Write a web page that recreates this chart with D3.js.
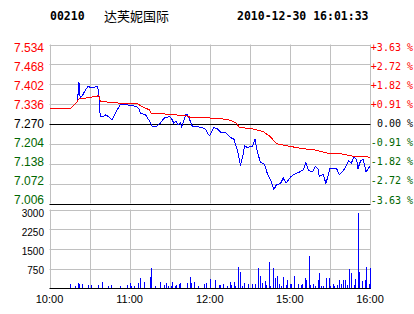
<!DOCTYPE html>
<html>
<head>
<meta charset="utf-8">
<script src="https://cdn.jsdelivr.net/npm/d3@7"></script>
<style>
	body { margin: 0; background: #fff; }
	svg { display: block; }
</style>
</head>
<body>
<div id="container"></div>
<script>
// quote header
const code = "00210"
const stockName = "达芙妮国际"
const stamp = "2010-12-30 16:01:33"
const prevClose = 7.270

// axis labels
const priceTicks = [7.534, 7.468, 7.402, 7.336, 7.270, 7.204, 7.138, 7.072, 7.006]
const volTicks = [3000, 2250, 1500, 750]
const timeLabels = ["10:00", "11:00", "12:00", "15:00", "16:00"]

// price line: [time, price]
const priceLine = [
	["10:00", 7.322], ["10:16", 7.322], ["10:21", 7.345], ["10:22", 7.41], ["10:23", 7.356],
	["10:25", 7.367], ["10:27", 7.384], ["10:29", 7.395], ["10:31", 7.39], ["10:33", 7.39],
	["10:35", 7.395], ["10:36", 7.395], ["10:37", 7.367], ["10:38", 7.295], ["10:40", 7.295],
	["10:42", 7.30], ["10:44", 7.295], ["10:47", 7.284], ["10:50", 7.312], ["10:53", 7.334],
	["10:58", 7.334], ["11:05", 7.328], ["11:07", 7.32], ["11:08", 7.306], ["11:12", 7.30],
	["11:15", 7.279], ["11:17", 7.26], ["11:20", 7.262], ["11:23", 7.273], ["11:26", 7.29],
	["11:30", 7.295], ["11:32", 7.284], ["11:33", 7.273], ["11:35", 7.279], ["11:36", 7.268],
	["11:38", 7.273], ["11:39", 7.26], ["11:42", 7.30], ["11:43", 7.303], ["11:45", 7.284],
	["11:47", 7.262], ["11:52", 7.26], ["11:55", 7.257], ["11:57", 7.251], ["11:59", 7.235],
	["12:00", 7.232], ["12:03", 7.259], ["12:06", 7.253], ["12:08", 7.243], ["12:12", 7.242],
	["12:14", 7.232], ["12:16", 7.224], ["12:18", 7.221], ["12:21", 7.179], ["12:23", 7.132],
	["12:25", 7.168], ["12:26", 7.199], ["12:28", 7.192], ["14:32", 7.196], ["14:34", 7.22],
	["14:35", 7.19], ["14:37", 7.157], ["14:38", 7.143], ["14:41", 7.137], ["14:43", 7.107],
	["14:46", 7.08], ["14:48", 7.052], ["14:50", 7.069], ["14:53", 7.072], ["14:55", 7.091],
	["14:57", 7.074], ["14:58", 7.078], ["14:59", 7.085], ["15:01", 7.096], ["15:04", 7.105],
	["15:07", 7.11], ["15:10", 7.118], ["15:12", 7.141], ["15:14", 7.115], ["15:17", 7.111],
	["15:19", 7.129], ["15:21", 7.122], ["15:22", 7.096], ["15:25", 7.102], ["15:27", 7.072],
	["15:30", 7.122], ["15:35", 7.122], ["15:37", 7.102], ["15:40", 7.115], ["15:42", 7.129],
	["15:44", 7.148], ["15:46", 7.141], ["15:48", 7.159], ["15:50", 7.152], ["15:51", 7.122],
	["15:53", 7.148], ["15:55", 7.152], ["15:57", 7.111], ["16:00", 7.13]
]

// average price line: [time, price]
const avgLine = [
	["10:00", 7.322], ["10:16", 7.322], ["10:20", 7.34], ["10:22", 7.353], ["10:27", 7.356],
	["10:35", 7.362], ["10:37", 7.364], ["10:38", 7.345], ["10:50", 7.34], ["11:06", 7.337],
	["11:10", 7.326], ["11:15", 7.317], ["11:16", 7.306], ["11:27", 7.303], ["11:43", 7.297],
	["11:45", 7.293], ["12:00", 7.29], ["12:08", 7.288], ["12:16", 7.282], ["12:20", 7.273],
	["12:22", 7.259], ["14:32", 7.254], ["14:40", 7.245], ["14:45", 7.229], ["14:50", 7.205],
	["14:57", 7.198], ["15:10", 7.188], ["15:20", 7.183], ["15:27", 7.174], ["15:40", 7.17],
	["15:47", 7.163], ["15:58", 7.161], ["16:00", 7.157]
]

// volume per minute: [time, volume]
const volume = [
	["10:15", 163], ["10:19", 87], ["10:21", 213], ["10:22", 163], ["10:24", 163],
	["10:29", 125], ["10:31", 125], ["10:36", 125], ["10:39", 239], ["10:44", 87],
	["10:46", 125], ["10:53", 87], ["10:58", 125], ["11:00", 213], ["11:01", 87],
	["11:03", 87], ["11:06", 213], ["11:08", 403], ["11:11", 251], ["11:15", 440],
	["11:16", 782], ["11:19", 87], ["11:23", 239], ["11:26", 125], ["11:27", 213],
	["11:29", 87], ["11:31", 87], ["11:32", 239], ["11:34", 87], ["11:35", 125],
	["11:37", 163], ["11:38", 213], ["11:43", 213], ["11:45", 429], ["11:46", 213],
	["11:48", 251], ["11:51", 87], ["11:56", 163], ["11:57", 213], ["12:00", 360],
	["12:04", 315], ["12:07", 125], ["12:08", 125], ["12:10", 163], ["12:13", 87],
	["12:15", 239], ["12:16", 125], ["12:18", 239], ["12:19", 87], ["12:21", 809],
	["12:23", 619], ["12:24", 87], ["12:26", 201], ["12:29", 163], ["14:32", 163],
	["14:34", 163], ["14:36", 771], ["14:38", 467], ["14:39", 201], ["14:41", 277],
	["14:42", 125], ["14:44", 999], ["14:45", 87], ["14:47", 771], ["14:49", 391],
	["14:50", 467], ["14:52", 163], ["14:53", 87], ["14:55", 429], ["14:57", 125],
	["14:58", 315], ["15:00", 163], ["15:01", 163], ["15:03", 467], ["15:06", 163],
	["15:08", 125], ["15:09", 163], ["15:11", 391], ["15:12", 315], ["15:14", 1226],
	["15:15", 125], ["15:17", 163], ["15:19", 87], ["15:21", 315], ["15:22", 581],
	["15:23", 87], ["15:25", 87], ["15:27", 391], ["15:29", 391], ["15:30", 87],
	["15:32", 163], ["15:33", 87], ["15:35", 125], ["15:37", 315], ["15:38", 163],
	["15:40", 315], ["15:41", 315], ["15:43", 125], ["15:44", 733], ["15:46", 581],
	["15:48", 125], ["15:49", 353], ["15:51", 2886], ["15:52", 619], ["15:54", 277],
	["15:56", 315], ["15:57", 809], ["15:59", 163], ["16:00", 771]
]

const width = 414
const height = 314
const RED = "#ff0000", GREEN = "#006600", BLUE = "#0000ff", GRID = "#c0c0c0"

// HK sessions 10:00-12:30 and 14:30-16:00 -> trading minute 0..240
function toIdx(t) {
	const [h, m] = t.split(":").map(Number)
	const mins = h * 60 + m
	return mins <= 12 * 60 + 30 ? mins - 600 : mins - (14 * 60 + 30) + 150
}

const x = d3.scaleLinear().domain([0, 240]).range([49.5, 370])
const y = d3.scaleLinear().domain([7.006, 7.534]).range([203.5, 44.5])
const yLab = d3.scaleLinear().domain([7.006, 7.534]).range([200, 47.5])
const yv = d3.scaleLinear().domain([0, 3000]).range([288.5, 209.5])
const yvLab = d3.scaleLinear().domain([0, 3000]).range([289, 213.5])

const svg = d3.select("#container")
	.append("svg")
	.attr("width", width)
	.attr("height", height)
	.style("background", "#fff")

// header
const head = svg.append("g")
	.style("font-family", "'DejaVu Sans Mono', monospace")
	.style("font-weight", "bold")
	.style("font-size", "11.5px")
head.append("text").attr("x", 50).attr("y", 20).text(code)
head.append("text").attr("x", 237).attr("y", 20).text(stamp)
svg.append("text")
	.attr("x", 104).attr("y", 21)
	.style("font-family", "'Noto Sans CJK SC', sans-serif")
	.style("font-size", "13px")
	.text(stockName)

// vertical grid: every 30 trading minutes
const vgrid = d3.range(0, 241, 30)
svg.append("g").selectAll("line")
	.data(vgrid)
	.join("line")
	.attr("x1", d => Math.round(x(d)) + 0.5).attr("x2", d => Math.round(x(d)) + 0.5)
	.attr("y1", 44.5).attr("y2", 203.5)
	.attr("stroke", GRID)
svg.append("g").selectAll("line")
	.data(vgrid)
	.join("line")
	.attr("x1", d => Math.round(x(d)) + 0.5).attr("x2", d => Math.round(x(d)) + 0.5)
	.attr("y1", 209.5).attr("y2", 288.5)
	.attr("stroke", GRID)

// horizontal grid, price panel
svg.append("g").selectAll("line")
	.data(priceTicks)
	.join("line")
	.attr("x1", x(0)).attr("x2", Math.round(x(240)) + 0.5)
	.attr("y1", d => Math.round(y(d)) + 0.5).attr("y2", d => Math.round(y(d)) + 0.5)
	.attr("stroke", d => d === prevClose || d === 7.006 ? "#000" : GRID)

// horizontal grid, volume panel
svg.append("g").selectAll("line")
	.data(volTicks)
	.join("line")
	.attr("x1", x(0)).attr("x2", Math.round(x(240)) + 0.5)
	.attr("y1", d => Math.round(yv(d)) + 0.5).attr("y2", d => Math.round(yv(d)) + 0.5)
	.attr("stroke", GRID)

// volume bars
svg.append("g").selectAll("rect")
	.data(volume)
	.join("rect")
	.attr("x", d => Math.round(x(toIdx(d[0]))))
	.attr("width", 1)
	.attr("y", d => Math.round(yv(d[1])))
	.attr("height", d => Math.round(yv(0)) - Math.round(yv(d[1])))
	.attr("fill", BLUE)
	.attr("shape-rendering", "crispEdges")

svg.append("line")
	.attr("x1", x(0)).attr("x2", Math.round(x(240)) + 0.5)
	.attr("y1", 288.5).attr("y2", 288.5)
	.attr("stroke", "#000")

// price and average lines
const line = d3.line()
	.x(d => x(toIdx(d[0])))
	.y(d => y(d[1]))

svg.append("path")
	.datum(priceLine)
	.attr("d", line)
	.attr("fill", "none")
	.attr("stroke", BLUE)
	.attr("shape-rendering", "crispEdges")

svg.append("path")
	.datum(avgLine)
	.attr("d", line)
	.attr("fill", "none")
	.attr("stroke", RED)
	.attr("shape-rendering", "crispEdges")

// left price labels
const colorOf = v => v > prevClose + 1e-9 ? RED : v < prevClose - 1e-9 ? GREEN : "#000"
svg.append("g")
	.style("font-family", "'Liberation Sans', Arial, sans-serif")
	.style("font-size", "12px")
	.selectAll("text")
	.data(priceTicks)
	.join("text")
	.attr("x", 44)
	.attr("y", d => yLab(d))
	.attr("dy", "0.35em")
	.attr("text-anchor", "end")
	.attr("fill", colorOf)
	.text(d => d.toFixed(3))

// right percent labels
const pct = v => (v - prevClose) / prevClose * 100
svg.append("g")
	.style("font-family", "'DejaVu Sans Mono', monospace")
	.style("font-size", "10px")
	.selectAll("text")
	.data(priceTicks)
	.join("text")
	.attr("x", 413)
	.attr("y", d => yLab(d))
	.attr("dy", "0.35em")
	.attr("text-anchor", "end")
	.attr("fill", colorOf)
	.text(d => {
		const p = pct(d)
		return (Math.abs(p) < 0.005 ? "0.00" : d3.format("+.2f")(p).replace("−", "-")) + " %"
	})

// volume labels
svg.append("g")
	.style("font-family", "'Liberation Sans', Arial, sans-serif")
	.style("font-size", "10px")
	.selectAll("text")
	.data(volTicks)
	.join("text")
	.attr("x", 44)
	.attr("y", d => yvLab(d))
	.attr("dy", "0.35em")
	.attr("text-anchor", "end")
	.text(d => d)

// time labels
svg.append("g")
	.style("font-family", "'Liberation Sans', Arial, sans-serif")
	.style("font-size", "11px")
	.selectAll("text")
	.data(timeLabels)
	.join("text")
	.attr("x", d => x(toIdx(d)))
	.attr("y", 299)
	.attr("dy", "0.35em")
	.attr("text-anchor", "middle")
	.text(d => d)
</script>
</body>
</html>
